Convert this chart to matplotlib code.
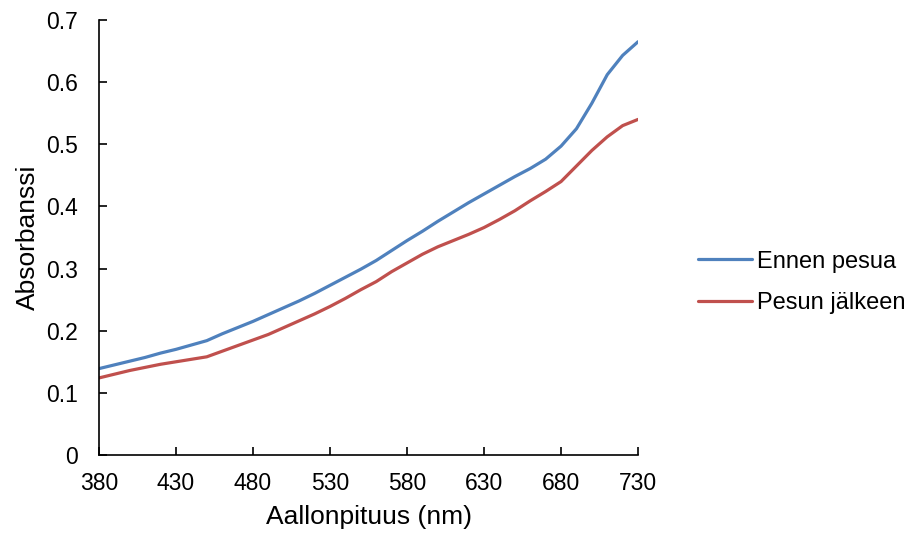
import matplotlib
matplotlib.use("Agg")
import matplotlib.pyplot as plt

wavelength = [380, 390, 400, 410, 420, 430, 440, 450, 460, 470, 480, 490, 500, 510, 520, 530, 540, 550,
              560, 570, 580, 590, 600, 610, 620, 630, 640, 650, 660, 670, 680, 690, 700, 710, 720, 730]
ennen = [0.139, 0.145, 0.151, 0.157, 0.164, 0.170, 0.177, 0.184, 0.195, 0.205, 0.215, 0.226, 0.237, 0.248,
         0.260, 0.273, 0.286, 0.299, 0.313, 0.329, 0.345, 0.360, 0.376, 0.391, 0.406, 0.420, 0.434, 0.448,
         0.461, 0.476, 0.497, 0.525, 0.566, 0.612, 0.643, 0.665]
jalkeen = [0.124, 0.130, 0.136, 0.141, 0.146, 0.150, 0.154, 0.158, 0.167, 0.176, 0.185, 0.194, 0.205, 0.216,
           0.227, 0.239, 0.252, 0.266, 0.279, 0.295, 0.309, 0.323, 0.335, 0.345, 0.355, 0.366, 0.379, 0.393,
           0.409, 0.424, 0.440, 0.465, 0.490, 0.512, 0.530, 0.540]
labels = ["Ennen pesua", "Pesun jälkeen"]
xticks = [380, 430, 480, 530, 580, 630, 680, 730]
yticks = [0, 0.1, 0.2, 0.3, 0.4, 0.5, 0.6, 0.7]

plt.rcParams['font.family'] = ['Liberation Sans', 'DejaVu Sans']
fig = plt.figure(figsize=(9.08, 5.37), dpi=100)
ax = fig.add_axes([0.109, 0.1527, 0.5937, 0.8101])
l1, = ax.plot(wavelength, ennen, color='#4F81BD', lw=2.3, solid_capstyle='round', solid_joinstyle='round')
l2, = ax.plot(wavelength, jalkeen, color='#C0504D', lw=2.3, solid_capstyle='round', solid_joinstyle='round')
ax.set_xlim(380, 730)
ax.set_ylim(0, 0.7)
ax.set_xticks(xticks)
ax.set_xticklabels([str(v) for v in xticks])
ax.set_yticks(yticks)
ax.set_yticklabels(['0'] + [f'{v:.1f}' for v in yticks[1:]])
for s in ['top', 'right']:
    ax.spines[s].set_visible(False)
for s in ['left', 'bottom']:
    ax.spines[s].set_linewidth(1.2)
ax.tick_params(direction='in', length=6, width=1.2, labelsize=16.5)
ax.tick_params(axis='x', pad=12.5)
ax.tick_params(axis='y', pad=15)
ax.set_xlabel('Aallonpituus (nm)', fontsize=19, labelpad=7)
ax.set_ylabel('Absorbanssi', fontsize=19, labelpad=4.5)
fig.legend([l1, l2], labels, loc='center left', bbox_to_anchor=(0.758, 0.474),
           frameon=False, fontsize=17, handlelength=2.3, handletextpad=0.2,
           labelspacing=0.83, borderaxespad=0)
fig.savefig('out.png', dpi=100)
